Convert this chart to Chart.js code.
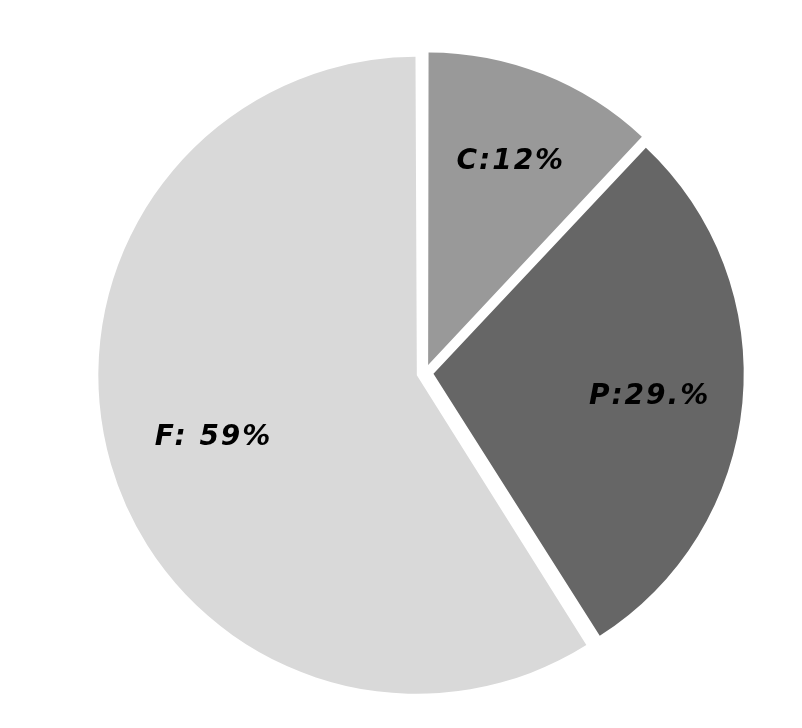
<!DOCTYPE html>
<html>
<head>
<meta charset="utf-8">
<script src="https://cdn.jsdelivr.net/npm/chart.js@4/dist/chart.umd.min.js"></script>
<style>
html,body{margin:0;padding:0;background:#fff;}
#wrap{width:802px;height:728px;position:relative;}
</style>
</head>
<body>
<div id="wrap"><canvas id="c" width="802" height="728"></canvas></div>
<script>
const categories = ['C', 'P', 'F'];
const values = [12, 29, 59];
const labelTexts = ['C:12%', 'P:29.%', 'F: 59%'];
const colors = ['#999999', '#666666', '#d9d9d9'];

const labelPlugin = {
  id: 'sliceLabels',
  afterDatasetsDraw(chart) {
    const ctx = chart.ctx;
    const meta = chart.getDatasetMeta(0);
    ctx.save();
    ctx.font = 'italic bold 28px "DejaVu Sans"';
    try { ctx.letterSpacing = '2px'; } catch (e) {}
    ctx.fillStyle = '#000';
    ctx.textAlign = 'center';
    ctx.textBaseline = 'alphabetic';
    const fracs = [0.7155, 0.697, 0.686];
    meta.data.forEach((arc, i) => {
      const p = arc.getProps(['x','y','startAngle','endAngle','outerRadius'], true);
      const disp = (arc.options.offset || 0) / 4;
      const mid = (p.startAngle + p.endAngle) / 2;
      const r = disp + p.outerRadius * fracs[i];
      ctx.fillText(labelTexts[i], p.x + Math.cos(mid) * r + 1, p.y + Math.sin(mid) * r + 10);
    });
    ctx.restore();
  }
};

new Chart(document.getElementById('c'), {
  type: 'pie',
  data: {
    labels: categories,
    datasets: [{
      data: values,
      backgroundColor: colors,
      borderWidth: 0,
      offset: 34,
      hoverOffset: 0
    }]
  },
  options: {
    responsive: false,
    animation: false,
    layout: { padding: { left: 48, right: 0, top: 46, bottom: 28 } },
    plugins: { legend: { display: false }, tooltip: { enabled: false } }
  },
  plugins: [labelPlugin]
});
</script>
</body>
</html>
